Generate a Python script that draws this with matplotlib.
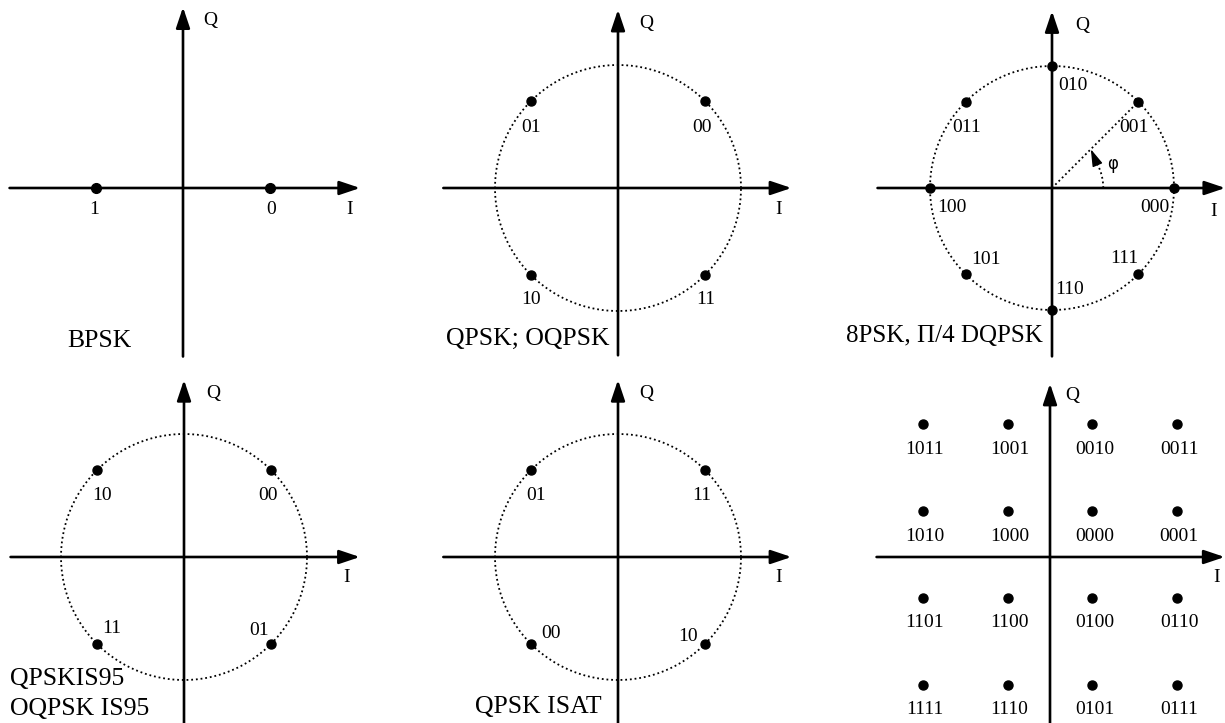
import numpy as np
import matplotlib.pyplot as plt
from matplotlib.transforms import Affine2D

plt.rcParams['font.family'] = ['Liberation Serif', 'DejaVu Serif']

W, H = 1225, 723

# ---------------- constellation data ----------------
bpsk_i = [-0.707, 0.707]
bpsk_labels = ['1', '0']

qpsk_angles = [135, 45, 225, 315]          # degrees on the unit circle
qpsk_labels = ['01', '00', '10', '11']
is95_labels = ['10', '00', '11', '01']
isat_labels = ['01', '11', '00', '10']

psk8_angles = [0, 45, 90, 135, 180, 225, 270, 315]
psk8_labels = ['000', '001', '010', '011', '100', '101', '110', '111']

qam_levels = [-3, -1, 1, 3]
qam_labels = [['1011', '1001', '0010', '0011'],   # Q = +3
              ['1010', '1000', '0000', '0001'],   # Q = +1
              ['1101', '1100', '0100', '0110'],   # Q = -1
              ['1111', '1110', '0101', '0111']]   # Q = -3

titles = [['BPSK'], ['QPSK; OQPSK'], ['8PSK, \u03a0/4 DQPSK'],
          ['QPSKIS95', 'OQPSK IS95'], ['QPSK ISAT'], []]

# ---------------- layout (pixels) ----------------
# origin, px per unit, I-axis range, Q-axis range, I label offset, Q label offset
panels = [
    dict(o=(183, 188), R=123, h=(-1.41, 1.44), v=(-1.37, 1.47), il=(-11, 22), ql=(27, 13)),
    dict(o=(618, 188), R=123, h=(-1.42, 1.41), v=(-1.36, 1.45), il=(-13, 22), ql=(28, 14)),
    dict(o=(1052, 188), R=122, h=(-1.43, 1.42), v=(-1.38, 1.45), il=(-12, 24), ql=(30, 14)),
    dict(o=(184, 557), R=123, h=(-1.41, 1.43), v=(-1.35, 1.44), il=(-13, 21), ql=(29, 14)),
    dict(o=(618, 557), R=123, h=(-1.42, 1.41), v=(-1.35, 1.44), il=(-13, 21), ql=(28, 14)),
    dict(o=(1050, 557), R=123, h=(-1.41, 1.42), v=(-1.35, 1.41), il=(-8, 20), ql=(22, 12)),
]
title_pos = [[(67, 347)], [(446, 345)], [(846, 342)],
             [(10, 685), (10, 715)], [(475, 713)], []]
title_size = [18.5, 18.5, 18, 18.5, 18.5, 18.5]

qpsk_off = [(0, 26), (-3, 26), (0, 25), (1, 25)]
is95_off = [(5, 25), (-3, 25), (15, -15), (-12, -13)]
isat_off = [(5, 25), (-3, 25), (20, -10), (-17, -7)]
psk8_off = [(-19, 19), (-4, 26), (21, 20), (1, 26), (22, 19), (20, -15), (18, -20), (-14, -16)]
qam_step_x = 0.345
qam_step_y = 0.353
qam_shift_y = 0.02

LBL = 14

fig = plt.figure(figsize=(W / 100, H / 100), dpi=100)
ax = fig.add_axes([0, 0, 1, 1])
ax.set_xlim(0, W)
ax.set_ylim(H, 0)
ax.axis('off')


def panel_trans(p):
    return Affine2D().scale(p['R'], -p['R']).translate(*p['o']) + ax.transData


def draw_axes(p, tr):
    ap = dict(arrowstyle='-|>,head_length=1.25,head_width=0.42', mutation_scale=10,
              lw=1.9, color='k', shrinkA=0, shrinkB=0)
    ax.annotate('', xy=(p['h'][1], 0), xytext=(p['h'][0], 0), xycoords=tr, arrowprops=ap)
    ax.annotate('', xy=(0, p['v'][1]), xytext=(0, p['v'][0]), xycoords=tr, arrowprops=ap)
    ax.annotate('I', xy=(p['h'][1], 0), xycoords=tr, xytext=(p['il'][0], -p['il'][1]),
                textcoords='offset pixels', ha='center', va='center', fontsize=LBL)
    ax.annotate('Q', xy=(0, p['v'][1]), xycoords=tr, xytext=(p['ql'][0], -p['ql'][1]),
                textcoords='offset pixels', ha='center', va='center', fontsize=LBL)


def draw_circle(tr):
    t = np.linspace(0, 2 * np.pi, 400)
    ax.plot(np.cos(t), np.sin(t), transform=tr, color='k', lw=1.3,
            ls=(0, (1, 1.6)), zorder=1)


def draw_points(tr, xs, ys, labels, offs, ms=6.5):
    ax.plot(xs, ys, 'o', transform=tr, color='k', ms=ms, zorder=3)
    for x, y, s, (dx, dy) in zip(xs, ys, labels, offs):
        ax.annotate(s, xy=(x, y), xycoords=tr, xytext=(dx, -dy),
                    textcoords='offset pixels', ha='center', va='center', fontsize=LBL)


trs = [panel_trans(p) for p in panels]
for p, tr in zip(panels, trs):
    draw_axes(p, tr)

# BPSK
draw_points(trs[0], bpsk_i, [0, 0], bpsk_labels, [(-2, 22), (1, 22)], ms=7)

# QPSK variants
a = np.radians(qpsk_angles)
for k, labs, offs in [(1, qpsk_labels, qpsk_off), (3, is95_labels, is95_off),
                      (4, isat_labels, isat_off)]:
    draw_circle(trs[k])
    draw_points(trs[k], np.cos(a), np.sin(a), labs, offs)

# 8PSK
a8 = np.radians(psk8_angles)
draw_circle(trs[2])
draw_points(trs[2], np.cos(a8), np.sin(a8), psk8_labels, psk8_off)
ax.plot([0, np.cos(a8[1])], [0, np.sin(a8[1])], transform=trs[2], color='k',
        lw=1.3, ls=(0, (1, 1.6)), zorder=1)
rarc = 0.42
ta = np.linspace(0, np.radians(30), 40)
ax.plot(rarc * np.cos(ta), rarc * np.sin(ta), transform=trs[2], color='k',
        lw=1.3, ls=(0, (1, 1.6)), zorder=1)
ax.annotate('', xy=(0.45 * np.cos(np.pi / 4), 0.45 * np.sin(np.pi / 4)),
            xytext=(rarc * np.cos(np.radians(30)), rarc * np.sin(np.radians(30))),
            xycoords=trs[2],
            arrowprops=dict(arrowstyle='-|>,head_length=1.3,head_width=0.4',
                            mutation_scale=8, lw=1, color='k', shrinkA=0, shrinkB=0))
ax.text(0.5, 0.2, '\u03c6', transform=trs[2], fontsize=12, ha='center', va='center',
        family=['DejaVu Sans'])

# 16QAM
for r, q in enumerate(qam_levels[::-1]):
    xs = [lv * qam_step_x for lv in qam_levels]
    ys = [q * qam_step_y + qam_shift_y] * len(qam_levels)
    draw_points(trs[5], xs, ys, qam_labels[r], [(2, 25)] * 4)

# titles
for lines, pos, fs in zip(titles, title_pos, title_size):
    for s, (x, y) in zip(lines, pos):
        ax.text(x, y, s, fontsize=fs, ha='left', va='baseline')

fig.savefig('out.png', dpi=100)
